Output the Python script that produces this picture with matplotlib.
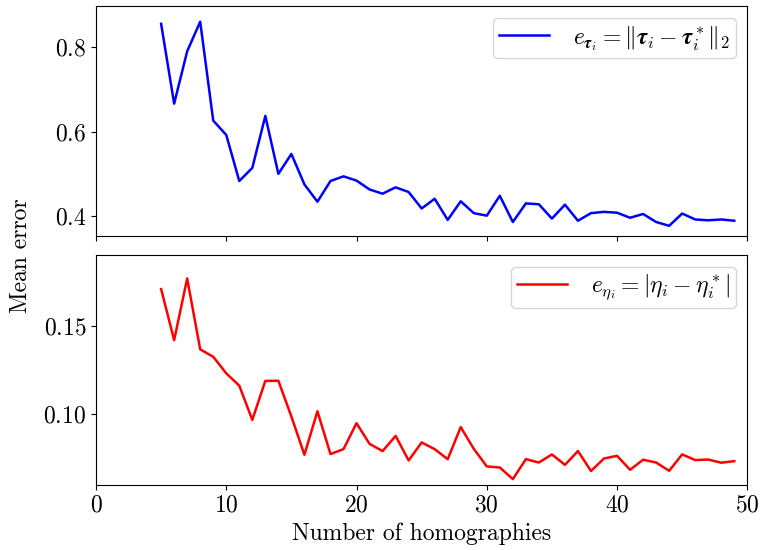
import matplotlib
matplotlib.use("Agg")
import matplotlib.pyplot as plt

plt.rcParams["font.family"] = "serif"
plt.rcParams["font.serif"] = ["cmr10", "DejaVu Serif"]
plt.rcParams["mathtext.fontset"] = "cm"
plt.rcParams["axes.formatter.use_mathtext"] = True
plt.rcParams["axes.unicode_minus"] = False
plt.rcParams["font.size"] = 17

# === Dati ===
n_homographies = list(range(5, 50))

err_tau = [0.855, 0.666, 0.790, 0.860, 0.626, 0.592, 0.483, 0.514, 0.637, 0.500,
           0.547, 0.475, 0.434, 0.483, 0.494, 0.484, 0.463, 0.453, 0.468, 0.457,
           0.418, 0.441, 0.391, 0.435, 0.407, 0.401, 0.448, 0.386, 0.430, 0.428,
           0.394, 0.427, 0.389, 0.407, 0.410, 0.408, 0.396, 0.405, 0.386, 0.377,
           0.406, 0.392, 0.390, 0.392, 0.389]

err_eta = [0.171, 0.142, 0.177, 0.1368, 0.1326, 0.1232, 0.1162, 0.0968, 0.1189, 0.1190,
           0.0987, 0.0770, 0.1017, 0.0774, 0.0802, 0.0949, 0.0832, 0.0791, 0.0877, 0.0738,
           0.0840, 0.0802, 0.0745, 0.0927, 0.0804, 0.0704, 0.0698, 0.0632, 0.0745, 0.0726,
           0.0772, 0.0713, 0.0791, 0.0678, 0.0749, 0.0764, 0.0685, 0.0742, 0.0726, 0.0679,
           0.0772, 0.0740, 0.0743, 0.0725, 0.0734]

label_tau = r"$e_{\boldsymbol{\tau}_i} = \Vert\boldsymbol{\tau}_i - \boldsymbol{\tau}_i^*\Vert_2$"
label_eta = r"$e_{\eta_i} = |\eta_i - \eta_i^*|$"

# === Plot ===
fig = plt.figure(figsize=(7.6, 5.5), dpi=100)
ax1 = fig.add_axes([0.1263, 0.571, 0.857, 0.418])
ax2 = fig.add_axes([0.1263, 0.118, 0.857, 0.418], sharex=ax1)

ax1.plot(n_homographies, err_tau, color="blue", lw=1.8, label=label_tau)
ax2.plot(n_homographies, err_eta, color="red", lw=1.8, label=label_eta)

ax1.set_xlim(0, 50)
ax1.set_ylim(0.353, 0.897)
ax2.set_ylim(0.0598, 0.1902)
ax1.set_yticks([0.4, 0.6, 0.8])
ax2.set_yticks([0.10, 0.15])
ax2.set_xticks([0, 10, 20, 30, 40, 50])
ax1.tick_params(labelbottom=False)

leg_kw = dict(loc="upper right", borderpad=0.25, handletextpad=1.0, handlelength=2.1)
ax1.legend(**leg_kw)
ax2.legend(**leg_kw)

ax2.set_xlabel("Number of homographies")
fig.text(0.027, 0.535, "Mean error", rotation=90, va="center", ha="center")

plt.savefig("out.png", dpi=100)
